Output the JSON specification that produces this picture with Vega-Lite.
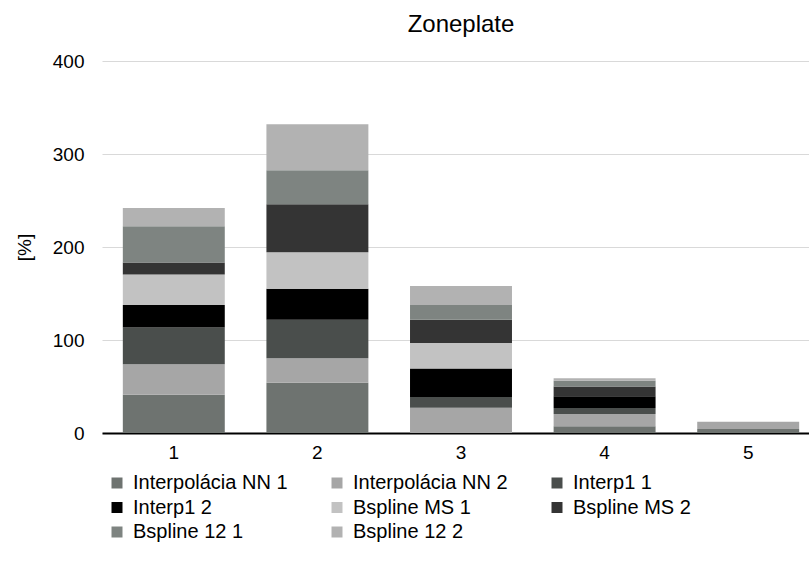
{
  "$schema": "https://vega.github.io/schema/vega-lite/v6.json",
  "autosize": {"type": "none"},
  "padding": {"left": 102, "top": 61, "right": 9, "bottom": 140},
  "width": 698,
  "height": 372,
  "background": "white",
  "title": {"text": "Zoneplate", "fontSize": 24, "fontWeight": "normal", "font": "Liberation Sans", "color": "#000000", "anchor": "middle", "dx": 10, "offset": 15},
  "config": {"view": {"stroke": null}, "font": "Liberation Sans"},
  "data": {"values": [
    {"x": "1", "k": 1, "series": "Interpolácia NN 1", "v": 41.1},
    {"x": "1", "k": 2, "series": "Interpolácia NN 2", "v": 32.9},
    {"x": "1", "k": 3, "series": "Interp1 1", "v": 39.4},
    {"x": "1", "k": 4, "series": "Interp1 2", "v": 24.2},
    {"x": "1", "k": 5, "series": "Bspline MS  1", "v": 32.9},
    {"x": "1", "k": 6, "series": "Bspline MS  2", "v": 12.9},
    {"x": "1", "k": 7, "series": "Bspline 12 1", "v": 38.9},
    {"x": "1", "k": 8, "series": "Bspline 12  2", "v": 19.7},
    {"x": "2", "k": 1, "series": "Interpolácia NN 1", "v": 53.9},
    {"x": "2", "k": 2, "series": "Interpolácia NN 2", "v": 26.5},
    {"x": "2", "k": 3, "series": "Interp1 1", "v": 41.5},
    {"x": "2", "k": 4, "series": "Interp1 2", "v": 33.3},
    {"x": "2", "k": 5, "series": "Bspline MS  1", "v": 39.2},
    {"x": "2", "k": 6, "series": "Bspline MS  2", "v": 51.5},
    {"x": "2", "k": 7, "series": "Bspline 12 1", "v": 36.5},
    {"x": "2", "k": 8, "series": "Bspline 12  2", "v": 49.7},
    {"x": "3", "k": 1, "series": "Interpolácia NN 1", "v": 0},
    {"x": "3", "k": 2, "series": "Interpolácia NN 2", "v": 27.1},
    {"x": "3", "k": 3, "series": "Interp1 1", "v": 11.5},
    {"x": "3", "k": 4, "series": "Interp1 2", "v": 30.8},
    {"x": "3", "k": 5, "series": "Bspline MS  1", "v": 27.4},
    {"x": "3", "k": 6, "series": "Bspline MS  2", "v": 25.1},
    {"x": "3", "k": 7, "series": "Bspline 12 1", "v": 15.7},
    {"x": "3", "k": 8, "series": "Bspline 12  2", "v": 20.4},
    {"x": "4", "k": 1, "series": "Interpolácia NN 1", "v": 7.2},
    {"x": "4", "k": 2, "series": "Interpolácia NN 2", "v": 13.2},
    {"x": "4", "k": 3, "series": "Interp1 1", "v": 6.4},
    {"x": "4", "k": 4, "series": "Interp1 2", "v": 12.6},
    {"x": "4", "k": 5, "series": "Bspline MS  1", "v": 0},
    {"x": "4", "k": 6, "series": "Bspline MS  2", "v": 10.7},
    {"x": "4", "k": 7, "series": "Bspline 12 1", "v": 6.0},
    {"x": "4", "k": 8, "series": "Bspline 12  2", "v": 2.9},
    {"x": "5", "k": 1, "series": "Interpolácia NN 1", "v": 4.3},
    {"x": "5", "k": 2, "series": "Interpolácia NN 2", "v": 7.8},
    {"x": "5", "k": 3, "series": "Interp1 1", "v": 0},
    {"x": "5", "k": 4, "series": "Interp1 2", "v": 0},
    {"x": "5", "k": 5, "series": "Bspline MS  1", "v": 0},
    {"x": "5", "k": 6, "series": "Bspline MS  2", "v": 0},
    {"x": "5", "k": 7, "series": "Bspline 12 1", "v": 0},
    {"x": "5", "k": 8, "series": "Bspline 12  2", "v": 0}
  ]},
  "mark": {"type": "bar"},
  "encoding": {
    "x": {
      "field": "x", "type": "nominal", "title": null,
      "scale": {"range": [0, 718], "paddingInner": 0.29, "paddingOuter": 0.145},
      "axis": {"labelAngle": 0, "labelFontSize": 19, "labelColor": "#000000", "labelPadding": 10, "ticks": false, "domainColor": "#000000", "domainWidth": 2, "grid": false}
    },
    "y": {
      "field": "v", "type": "quantitative", "stack": "zero",
      "scale": {"domain": [0, 400], "nice": false},
      "axis": {"values": [0, 100, 200, 300, 400], "title": "[%]", "titleFontSize": 19, "titleFontWeight": "normal", "titleColor": "#000000", "titleX": -78, "titleY": 186, "titleBaseline": "middle", "titleAngle": -90, "labelFontSize": 19, "labelColor": "#000000", "labelPadding": 18, "ticks": false, "domain": false, "gridColor": "#d9d9d9", "gridWidth": 1}
    },
    "order": {"field": "k", "type": "quantitative", "sort": "ascending"},
    "color": {
      "field": "series", "type": "nominal",
      "scale": {
        "domain": ["Interpolácia NN 1", "Interpolácia NN 2", "Interp1 1", "Interp1 2", "Bspline MS  1", "Bspline MS  2", "Bspline 12 1", "Bspline 12  2"],
        "range": ["#6e7370", "#a6a6a6", "#4a4e4c", "#000000", "#c2c2c2", "#343434", "#7e8481", "#b2b2b2"]
      },
      "legend": {
        "title": null, "orient": "none", "legendX": 5, "legendY": 412, "direction": "horizontal", "columns": 3,
        "gridAlign": "all", "columnPadding": 39, "rowPadding": 4.5,
        "symbolType": "square", "symbolSize": 121, "symbolStrokeWidth": 0, "symbolOpacity": 1,
        "labelFontSize": 20, "labelColor": "#000000", "labelOffset": 6, "labelLimit": 300
      }
    }
  }
}
